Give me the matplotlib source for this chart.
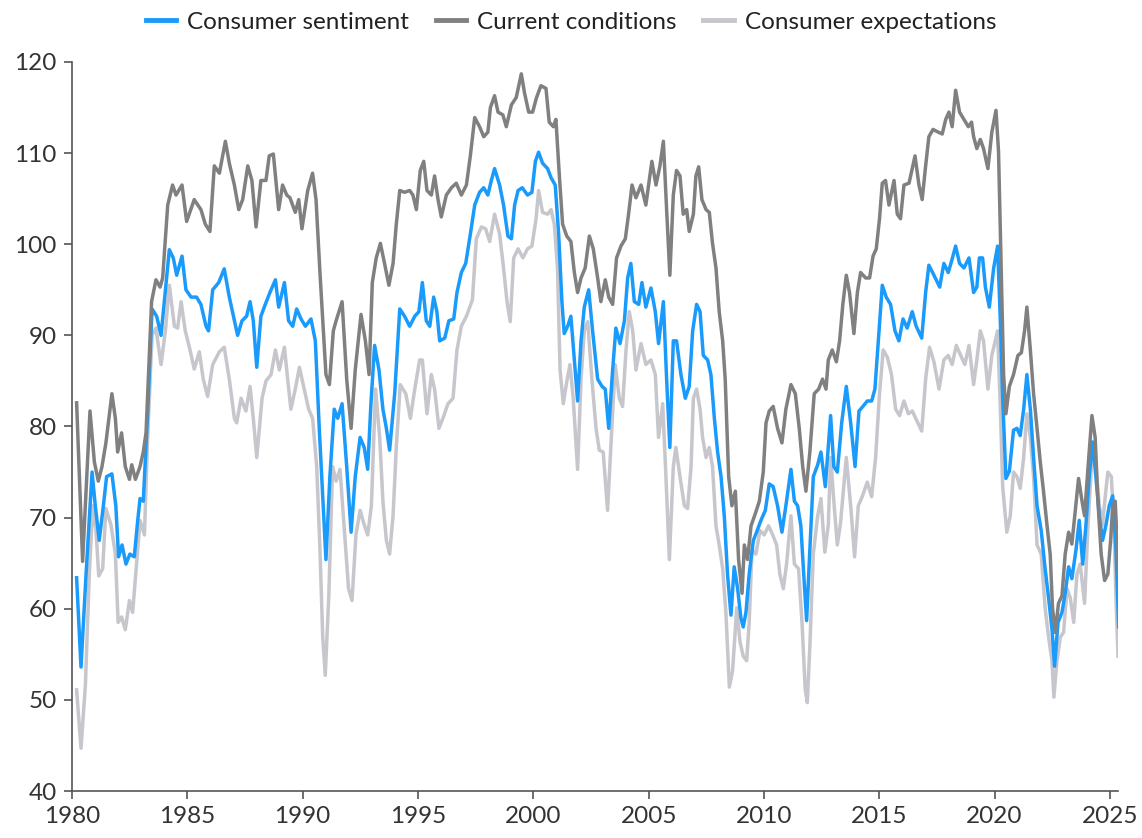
import matplotlib.pyplot as plt

# University of Michigan indexes (decimal year, index value)
sent_t = [1980.2, 1980.39, 1980.61, 1980.87, 1981.01, 1981.18, 1981.36, 1981.5, 1981.73, 1981.9,
          1982.02, 1982.17, 1982.34, 1982.51, 1982.7, 1982.85, 1982.95, 1983.09, 1983.28, 1983.47,
          1983.67, 1983.86, 1984.08, 1984.22, 1984.39, 1984.54, 1984.77, 1984.94, 1985.16, 1985.4,
          1985.59, 1985.81, 1985.92, 1986.1, 1986.36, 1986.6, 1986.82, 1987.0, 1987.18, 1987.37,
          1987.57, 1987.72, 1987.86, 1988.01, 1988.19, 1988.38, 1988.58, 1988.82, 1988.96, 1989.21,
          1989.39, 1989.57, 1989.74, 1989.93, 1990.12, 1990.36, 1990.55, 1990.72, 1990.9, 1991.01,
          1991.18, 1991.37, 1991.52, 1991.71, 1991.91, 1992.1, 1992.28, 1992.49, 1992.67, 1992.82,
          1992.96, 1993.12, 1993.31, 1993.48, 1993.63, 1993.77, 1993.99, 1994.21, 1994.42, 1994.64,
          1994.86, 1995.04, 1995.19, 1995.36, 1995.51, 1995.68, 1995.82, 1995.94, 1996.16, 1996.34,
          1996.55, 1996.69, 1996.88, 1997.07, 1997.27, 1997.46, 1997.67, 1997.85, 1998.03, 1998.18,
          1998.32, 1998.54, 1998.71, 1998.9, 1999.05, 1999.19, 1999.34, 1999.52, 1999.75, 1999.94,
          2000.09, 2000.23, 2000.4, 2000.62, 2000.77, 2000.95, 2001.1, 2001.24, 2001.34, 2001.49,
          2001.63, 2001.78, 2001.92, 2002.07, 2002.21, 2002.4, 2002.57, 2002.79, 2002.98, 2003.12,
          2003.27, 2003.44, 2003.58, 2003.76, 2003.95, 2004.09, 2004.23, 2004.38, 2004.57, 2004.71,
          2004.88, 2005.1, 2005.29, 2005.43, 2005.64, 2005.78, 2005.92, 2006.07, 2006.21, 2006.4,
          2006.59, 2006.76, 2006.91, 2007.08, 2007.23, 2007.37, 2007.56, 2007.7, 2007.85, 2007.99,
          2008.14, 2008.28, 2008.42, 2008.57, 2008.71, 2008.86, 2009.0, 2009.1, 2009.22, 2009.36,
          2009.54, 2009.68, 2009.87, 2010.06, 2010.23, 2010.4, 2010.59, 2010.78, 2010.95, 2011.17,
          2011.32, 2011.46, 2011.6, 2011.75, 2011.85, 2011.99, 2012.14, 2012.33, 2012.47, 2012.66,
          2012.89, 2013.03, 2013.18, 2013.37, 2013.57, 2013.76, 2013.95, 2014.12, 2014.29, 2014.48,
          2014.67, 2014.81, 2014.96, 2015.13, 2015.3, 2015.49, 2015.68, 2015.85, 2016.03, 2016.21,
          2016.43, 2016.6, 2016.84, 2017.01, 2017.15, 2017.37, 2017.62, 2017.8, 2017.99, 2018.14,
          2018.31, 2018.48, 2018.67, 2018.89, 2019.09, 2019.23, 2019.34, 2019.48, 2019.6, 2019.77,
          2019.96, 2020.13, 2020.25, 2020.35, 2020.49, 2020.64, 2020.82, 2020.97, 2021.11, 2021.26,
          2021.4, 2021.55, 2021.69, 2021.84, 2022.02, 2022.19, 2022.34, 2022.49, 2022.6, 2022.75,
          2022.92, 2023.06, 2023.21, 2023.35, 2023.53, 2023.67, 2023.82, 2023.96, 2024.1, 2024.25,
          2024.39, 2024.54, 2024.68, 2024.83, 2024.97, 2025.12, 2025.26, 2025.38]
sent_v = [63.4, 53.6, 63.8, 75.0, 71.3, 67.5, 71.3, 74.5, 74.8, 71.3,
          65.7, 67.0, 64.9, 66.0, 65.7, 69.7, 72.1, 71.8, 81.4, 92.9,
          92.1, 90.0, 95.8, 99.4, 98.5, 96.6, 98.7, 95.0, 94.2, 94.2,
          93.4, 91.0, 90.5, 95.0, 95.8, 97.3, 94.2, 92.1, 90.0, 91.6,
          92.1, 93.7, 91.6, 86.5, 92.1, 93.4, 94.7, 96.1, 93.1, 95.8,
          91.6, 91.0, 92.9, 91.8, 91.0, 91.8, 89.4, 79.8, 70.8, 65.4,
          74.5, 81.9, 80.9, 82.5, 75.6, 68.4, 74.5, 78.8, 77.7, 75.3,
          82.5, 88.9, 86.2, 81.9, 79.8, 77.4, 83.6, 92.9, 92.1, 91.0,
          92.1, 92.6, 95.8, 91.6, 91.0, 94.2, 92.6, 89.4, 89.7, 91.6,
          91.8, 94.7, 96.9, 97.9, 101.1, 104.3, 105.7, 106.2, 105.4, 107.0,
          108.3, 106.5, 104.3, 100.9, 100.6, 104.3, 105.9, 106.2, 105.4, 105.7,
          109.1, 110.1, 108.9, 108.3, 107.3, 106.5, 101.1, 93.7, 90.2, 91.0,
          92.1, 87.3, 82.8, 89.4, 93.1, 95.0, 90.5, 85.2, 84.4, 84.1,
          79.8, 86.2, 90.8, 89.1, 91.6, 96.3, 97.9, 93.7, 93.4, 95.8,
          93.1, 95.2, 92.6, 89.1, 93.7, 85.2, 77.7, 89.4, 89.4, 85.7,
          83.1, 84.4, 90.5, 93.4, 92.6, 87.8, 87.3, 85.7, 80.9, 77.2,
          74.5, 70.2, 63.8, 59.3, 64.6, 62.2, 59.0, 58.0, 59.6, 63.8,
          67.5, 68.4, 69.7, 70.8, 73.7, 73.4, 71.3, 68.4, 71.3, 75.3,
          71.8, 71.3, 69.1, 62.7, 58.7, 66.5, 74.5, 75.8, 77.2, 73.4,
          81.2, 75.6, 75.0, 80.4, 84.4, 80.4, 75.6, 81.7, 82.2, 82.8,
          82.8, 84.1, 89.4, 95.5, 94.2, 93.4, 90.5, 89.4, 91.8, 90.8,
          92.6, 91.0, 89.7, 94.7, 97.7, 96.6, 95.3, 97.9, 96.9, 98.2,
          99.8, 97.9, 97.4, 98.5, 94.7, 95.3, 98.5, 98.5, 95.3, 93.1,
          97.4, 99.8, 91.5, 83.1, 74.3, 75.1, 79.6, 79.8, 79.0, 81.9,
          85.7, 81.9, 76.6, 71.3, 68.6, 64.4, 61.2, 57.7, 53.7, 58.5,
          59.6, 61.7, 64.6, 63.3, 66.5, 69.7, 64.9, 69.2, 74.5, 78.3,
          74.5, 70.2, 67.5, 69.2, 71.3, 72.4, 66.5, 58.0]

curr_t = [1980.2, 1980.46, 1980.78, 1980.97, 1981.14, 1981.3, 1981.47, 1981.73, 1981.88, 1981.98,
          1982.15, 1982.31, 1982.49, 1982.59, 1982.75, 1982.95, 1983.09, 1983.21, 1983.45, 1983.64,
          1983.82, 1983.93, 1984.15, 1984.36, 1984.51, 1984.77, 1984.97, 1985.3, 1985.59, 1985.78,
          1985.98, 1986.17, 1986.39, 1986.65, 1986.82, 1987.04, 1987.23, 1987.4, 1987.62, 1987.8,
          1987.98, 1988.19, 1988.41, 1988.55, 1988.73, 1988.96, 1989.13, 1989.31, 1989.45, 1989.68,
          1989.83, 1989.97, 1990.22, 1990.43, 1990.58, 1990.75, 1990.9, 1991.01, 1991.16, 1991.33,
          1991.45, 1991.71, 1991.91, 1992.1, 1992.28, 1992.53, 1992.72, 1992.88, 1993.02, 1993.19,
          1993.37, 1993.55, 1993.74, 1993.92, 1994.06, 1994.21, 1994.42, 1994.64, 1994.78, 1994.93,
          1995.1, 1995.25, 1995.39, 1995.58, 1995.72, 1995.87, 1996.01, 1996.23, 1996.45, 1996.66,
          1996.88, 1997.1, 1997.27, 1997.46, 1997.67, 1997.85, 1998.03, 1998.14, 1998.32, 1998.47,
          1998.68, 1998.83, 1999.05, 1999.26, 1999.48, 1999.62, 1999.8, 1999.97, 2000.14, 2000.33,
          2000.55, 2000.69, 2000.87, 2000.98, 2001.13, 2001.27, 2001.45, 2001.63, 2001.78, 2001.92,
          2002.07, 2002.25, 2002.43, 2002.6, 2002.79, 2002.93, 2003.12, 2003.27, 2003.44, 2003.61,
          2003.8, 2003.99, 2004.13, 2004.28, 2004.45, 2004.67, 2004.88, 2005.14, 2005.32, 2005.49,
          2005.64, 2005.78, 2005.92, 2006.07, 2006.21, 2006.36, 2006.5, 2006.65, 2006.76, 2006.94,
          2007.05, 2007.17, 2007.31, 2007.49, 2007.63, 2007.77, 2007.92, 2008.06, 2008.21, 2008.32,
          2008.47, 2008.61, 2008.76, 2008.9, 2009.05, 2009.15, 2009.29, 2009.44, 2009.62, 2009.8,
          2009.97, 2010.09, 2010.23, 2010.4, 2010.59, 2010.78, 2010.95, 2011.17, 2011.36, 2011.53,
          2011.68, 2011.82, 2011.99, 2012.18, 2012.37, 2012.54, 2012.69, 2012.79, 2012.96, 2013.14,
          2013.28, 2013.42, 2013.57, 2013.71, 2013.9, 2014.05, 2014.19, 2014.41, 2014.58, 2014.73,
          2014.87, 2015.01, 2015.13, 2015.27, 2015.42, 2015.64, 2015.78, 2015.92, 2016.07, 2016.29,
          2016.55, 2016.72, 2016.86, 2017.01, 2017.15, 2017.33, 2017.56, 2017.73, 2017.88, 2018.02,
          2018.16, 2018.31, 2018.48, 2018.67, 2018.86, 2019.0, 2019.09, 2019.23, 2019.38, 2019.52,
          2019.71, 2019.88, 2020.06, 2020.17, 2020.29, 2020.39, 2020.49, 2020.64, 2020.82, 2021.01,
          2021.16, 2021.3, 2021.4, 2021.55, 2021.69, 2021.84, 2021.98, 2022.12, 2022.27, 2022.41,
          2022.51, 2022.63, 2022.77, 2022.92, 2023.06, 2023.21, 2023.35, 2023.5, 2023.64, 2023.79,
          2023.9, 2024.05, 2024.22, 2024.36, 2024.48, 2024.62, 2024.77, 2024.91, 2025.03, 2025.12,
          2025.23, 2025.38]
curr_v = [82.6, 65.2, 81.7, 76.1, 74.0, 75.6, 78.2, 83.6, 80.9, 77.2,
          79.3, 75.6, 74.2, 75.8, 74.2, 75.6, 77.2, 79.3, 93.7, 96.1,
          95.3, 96.3, 104.3, 106.5, 105.4, 106.5, 102.5, 104.9, 103.8, 102.2,
          101.4, 108.6, 107.8, 111.3, 108.9, 106.5, 103.8, 104.9, 108.6, 107.0,
          101.9, 107.0, 107.0, 109.7, 109.9, 103.8, 106.5, 105.4, 105.1, 103.5,
          104.9, 101.7, 105.9, 107.8, 104.9, 96.9, 90.5, 85.7, 84.6, 90.5,
          91.6, 93.7, 85.2, 79.8, 86.2, 92.3, 89.4, 85.7, 95.8, 98.5,
          100.1, 97.9, 95.5, 97.9, 102.2, 105.9, 105.7, 105.9, 105.4, 103.8,
          108.1, 109.1, 105.9, 105.4, 107.5, 104.9, 103.0, 105.4, 106.2, 106.7,
          105.4, 106.5, 109.7, 113.9, 112.9, 111.8, 112.3, 115.0, 116.3, 114.5,
          114.2, 112.9, 115.3, 116.1, 118.7, 116.6, 114.5, 114.5, 116.1, 117.4,
          117.1, 113.4, 112.9, 113.7, 107.5, 102.2, 100.9, 100.3, 96.9, 94.7,
          96.3, 97.4, 100.9, 99.5, 96.3, 93.7, 96.1, 94.2, 93.4, 98.5,
          99.8, 100.6, 103.3, 106.5, 105.1, 106.5, 104.3, 109.1, 106.5, 108.6,
          111.3, 103.8, 96.6, 105.4, 108.1, 107.5, 103.3, 103.8, 101.4, 103.3,
          107.5, 108.5, 104.9, 103.8, 103.5, 100.1, 97.4, 92.6, 89.4, 85.2,
          74.5, 71.3, 72.9, 65.4, 61.7, 67.0, 65.4, 69.1, 70.4, 71.8,
          75.0, 80.4, 81.7, 82.2, 79.8, 78.2, 81.9, 84.6, 83.6, 79.8,
          75.6, 72.9, 77.2, 83.6, 84.1, 85.2, 84.1, 87.3, 88.4, 87.1,
          89.4, 93.4, 96.6, 94.7, 90.2, 94.7, 96.9, 96.3, 96.3, 98.7,
          99.5, 102.8, 106.7, 107.0, 104.3, 107.0, 103.3, 102.8, 106.5, 106.7,
          109.7, 106.5, 104.9, 108.6, 111.8, 112.6, 112.3, 112.1, 113.7, 114.5,
          112.9, 116.9, 114.5, 113.7, 112.9, 113.4, 111.8, 110.5, 111.5, 110.5,
          108.3, 112.3, 114.7, 110.2, 96.9, 85.7, 81.4, 84.4, 85.7, 87.8,
          88.1, 90.5, 93.1, 88.4, 83.6, 79.8, 76.1, 72.9, 69.2, 66.0,
          60.1, 57.4, 60.6, 61.4, 66.0, 68.4, 67.1, 70.8, 74.3, 71.8,
          70.2, 75.5, 81.2, 78.8, 71.8, 66.0, 63.1, 63.8, 67.5, 71.3,
          71.8, 63.3]

expt_t = [1980.2, 1980.39, 1980.58, 1980.75, 1980.9, 1981.04, 1981.16, 1981.33, 1981.47, 1981.69,
          1981.88, 1982.0, 1982.15, 1982.31, 1982.49, 1982.63, 1982.8, 1982.95, 1983.14, 1983.28,
          1983.47, 1983.64, 1983.86, 1984.05, 1984.22, 1984.44, 1984.58, 1984.73, 1984.91, 1985.09,
          1985.3, 1985.52, 1985.69, 1985.88, 1986.1, 1986.39, 1986.6, 1986.82, 1987.04, 1987.14,
          1987.33, 1987.54, 1987.72, 1987.86, 1988.01, 1988.24, 1988.41, 1988.63, 1988.82, 1988.99,
          1989.21, 1989.35, 1989.49, 1989.68, 1989.86, 1990.07, 1990.26, 1990.43, 1990.61, 1990.75,
          1990.87, 1990.98, 1991.13, 1991.3, 1991.45, 1991.62, 1991.81, 1991.99, 1992.14, 1992.31,
          1992.49, 1992.67, 1992.82, 1992.98, 1993.16, 1993.34, 1993.48, 1993.63, 1993.77, 1993.92,
          1994.06, 1994.23, 1994.47, 1994.67, 1994.86, 1995.07, 1995.19, 1995.39, 1995.58, 1995.72,
          1995.91, 1996.11, 1996.3, 1996.52, 1996.69, 1996.88, 1997.1, 1997.36, 1997.53, 1997.75,
          1997.93, 1998.11, 1998.32, 1998.54, 1998.71, 1998.86, 1999.0, 1999.15, 1999.34, 1999.55,
          1999.75, 1999.94, 2000.12, 2000.23, 2000.4, 2000.62, 2000.77, 2000.91, 2001.05, 2001.16,
          2001.3, 2001.45, 2001.59, 2001.73, 2001.92, 2002.07, 2002.21, 2002.36, 2002.54, 2002.72,
          2002.86, 2003.03, 2003.22, 2003.37, 2003.55, 2003.73, 2003.87, 2004.02, 2004.16, 2004.31,
          2004.45, 2004.67, 2004.88, 2005.1, 2005.29, 2005.43, 2005.61, 2005.75, 2005.9, 2006.07,
          2006.18, 2006.36, 2006.55, 2006.69, 2006.84, 2006.94, 2007.08, 2007.23, 2007.34, 2007.49,
          2007.63, 2007.77, 2007.92, 2008.06, 2008.21, 2008.35, 2008.5, 2008.64, 2008.82, 2008.96,
          2009.1, 2009.25, 2009.36, 2009.48, 2009.65, 2009.83, 2010.01, 2010.2, 2010.38, 2010.55,
          2010.69, 2010.84, 2010.98, 2011.17, 2011.32, 2011.5, 2011.65, 2011.79, 2011.88, 2011.99,
          2012.14, 2012.33, 2012.47, 2012.64, 2012.79, 2012.89, 2013.03, 2013.18, 2013.32, 2013.57,
          2013.76, 2013.93, 2014.09, 2014.26, 2014.48, 2014.67, 2014.84, 2015.01, 2015.17, 2015.35,
          2015.53, 2015.71, 2015.88, 2016.07, 2016.26, 2016.43, 2016.58, 2016.84, 2017.01, 2017.18,
          2017.37, 2017.59, 2017.8, 2017.99, 2018.16, 2018.34, 2018.53, 2018.71, 2018.89, 2019.09,
          2019.23, 2019.38, 2019.52, 2019.71, 2019.88, 2020.13, 2020.25, 2020.35, 2020.53, 2020.68,
          2020.82, 2020.97, 2021.11, 2021.26, 2021.4, 2021.55, 2021.69, 2021.84, 2022.02, 2022.19,
          2022.34, 2022.49, 2022.57, 2022.7, 2022.85, 2022.99, 2023.14, 2023.28, 2023.43, 2023.57,
          2023.71, 2023.9, 2024.05, 2024.22, 2024.39, 2024.54, 2024.68, 2024.8, 2024.91, 2025.06,
          2025.17, 2025.26, 2025.35]
expt_v = [51.1, 44.7, 51.6, 63.8, 71.3, 68.6, 63.6, 64.4, 71.0, 69.2,
          66.0, 58.5, 59.1, 57.7, 60.9, 59.6, 64.9, 69.7, 68.1, 78.8,
          90.0, 90.8, 86.8, 90.5, 95.5, 91.0, 90.8, 93.7, 90.5, 88.7,
          86.3, 88.2, 85.2, 83.3, 86.8, 88.2, 88.7, 85.2, 80.9, 80.4,
          83.1, 81.7, 84.4, 80.9, 76.6, 83.1, 85.0, 85.7, 88.4, 86.2,
          88.7, 85.2, 81.9, 84.1, 86.5, 84.1, 81.9, 80.9, 75.6, 66.5,
          56.9, 52.7, 61.2, 75.6, 74.0, 75.3, 68.6, 62.2, 60.9, 68.1,
          70.8, 69.2, 68.1, 71.3, 84.1, 78.8, 71.8, 67.5, 66.0, 70.2,
          77.7, 84.6, 83.6, 80.9, 84.1, 87.3, 87.3, 81.4, 85.7, 84.1,
          79.8, 81.1, 82.5, 83.1, 88.4, 91.0, 92.1, 93.9, 100.6, 101.9,
          101.7, 100.3, 103.3, 101.1, 97.4, 93.7, 91.5, 98.5, 99.5, 98.5,
          99.5, 99.8, 102.8, 105.9, 103.5, 103.3, 103.8, 102.2, 97.4, 86.2,
          82.5, 84.9, 86.8, 83.1, 75.3, 85.2, 90.5, 91.5, 85.2, 79.8,
          77.4, 77.2, 70.8, 78.2, 86.8, 83.1, 82.2, 88.4, 92.6, 90.5,
          86.2, 89.1, 86.8, 87.3, 85.7, 78.8, 82.5, 74.5, 65.4, 75.6,
          77.7, 74.5, 71.3, 71.0, 75.6, 83.1, 84.1, 81.9, 78.8, 76.6,
          77.7, 75.6, 69.1, 67.0, 64.4, 59.6, 51.4, 53.2, 60.1, 56.4,
          54.8, 54.3, 58.5, 66.5, 66.0, 68.6, 68.1, 69.1, 68.1, 67.0,
          63.8, 62.2, 64.9, 70.2, 64.9, 64.4, 58.5, 51.1, 49.7, 55.9,
          66.0, 70.2, 72.1, 66.2, 69.2, 76.6, 71.8, 67.0, 69.4, 76.6,
          71.3, 65.7, 71.3, 72.3, 73.9, 72.3, 76.6, 83.6, 88.4, 87.6,
          85.7, 81.9, 81.2, 82.8, 81.4, 81.7, 80.9, 79.5, 85.2, 88.7,
          87.1, 84.1, 87.3, 87.8, 86.8, 88.9, 87.8, 86.8, 88.9, 84.6,
          87.3, 90.5, 89.4, 84.1, 87.8, 90.5, 81.9, 73.4, 68.4, 70.2,
          75.0, 74.5, 73.2, 76.6, 81.4, 78.8, 74.5, 67.0, 66.0, 60.1,
          56.9, 54.2, 50.3, 54.2, 56.9, 57.4, 62.2, 61.2, 58.5, 63.8,
          64.9, 60.6, 69.2, 76.6, 75.6, 71.3, 69.2, 72.4, 75.0, 74.5,
          69.7, 61.2, 54.8]

labels = ["Consumer sentiment", "Current conditions", "Consumer expectations"]
colors = ["#1a9bfc", "#808080", "#c6c6cc"]

plt.rcParams["font.family"] = ["Lato", "DejaVu Sans"]

fig = plt.figure(figsize=(11.42, 8.38), dpi=100)
ax = fig.add_axes([72 / 1142, 1 - 791 / 838, (1118 - 72) / 1142, (791 - 62) / 838])

ax.plot(sent_t, sent_v, color=colors[0], lw=2.5, label=labels[0], zorder=3)
ax.plot(curr_t, curr_v, color=colors[1], lw=2.5, label=labels[1], zorder=4)
ax.plot(expt_t, expt_v, color=colors[2], lw=2.5, label=labels[2], zorder=2)

ax.set_xlim(1980, 2025.35)
ax.set_ylim(40, 120)
ax.set_xticks(range(1980, 2026, 5))
ax.set_yticks(range(40, 121, 10))
ax.tick_params(labelsize=17.5, labelcolor="#333333", color="#555555",
               length=6, width=1.2, pad=5)

for side in ["top", "right"]:
    ax.spines[side].set_visible(False)
for side in ["left", "bottom"]:
    ax.spines[side].set_color("#555555")
    ax.spines[side].set_linewidth(1.2)

leg = fig.legend(loc="upper center", bbox_to_anchor=(0.5, 1.012), ncol=3, frameon=False,
                 fontsize=17.5, handlelength=1.25, columnspacing=1.1, handletextpad=0.45,
                 labelcolor="#222222")
for line in leg.get_lines():
    line.set_linewidth(3.5)

fig.savefig("out.png", dpi=100)
